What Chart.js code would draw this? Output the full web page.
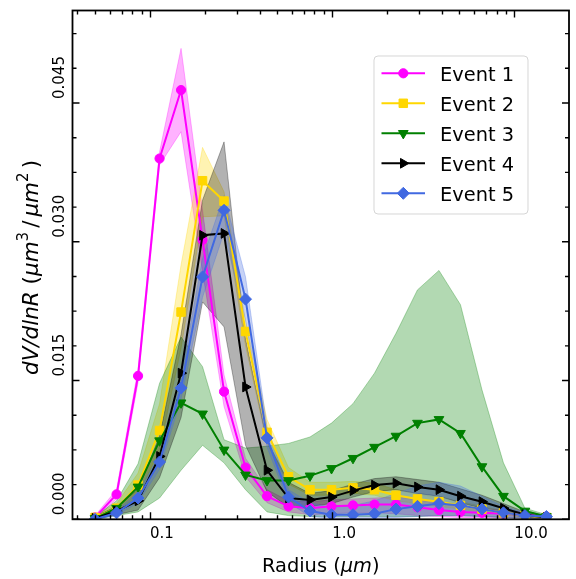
<!DOCTYPE html>
<html><head><meta charset="utf-8">
<script src="https://cdn.jsdelivr.net/npm/chart.js@4.4.0/dist/chart.umd.min.js"></script>
<style>html,body{margin:0;padding:0;background:#fff;}canvas{display:block;}</style>
</head><body>
<canvas id="c" width="576" height="579"></canvas>
<script>
// ---------------- data ----------------
const radius = [0.05, 0.065604, 0.086077, 0.112939, 0.148184, 0.194429, 0.255105, 0.334716, 0.439173, 0.576227, 0.756052, 0.991996, 1.301571, 1.707757, 2.240702, 2.939966, 3.857452, 5.06126, 6.640745, 8.713145, 11.432287, 15.0];
const eventLabels = ['Event 1', 'Event 2', 'Event 3', 'Event 4', 'Event 5'];

const event1   = [0.0002, 0.0027, 0.0155, 0.0390, 0.0464, 0.0302, 0.0138, 0.0056, 0.0025, 0.0014, 0.0012, 0.0014, 0.0015, 0.0016, 0.0016, 0.0013, 0.0010, 0.0008, 0.0007, 0.0006, 0.0005, 0.0003];
const event1Lo = [0.0000, 0.0022, 0.0148, 0.0383, 0.0419, 0.0268, 0.0122, 0.0046, 0.0018, 0.0008, 0.0005, 0.0006, 0.0007, 0.0007, 0.0006, 0.0004, 0.0003, 0.0002, 0.0002, 0.0002, 0.0001, 0.0001];
const event1Hi = [0.0004, 0.0032, 0.0162, 0.0397, 0.0509, 0.0334, 0.0156, 0.0066, 0.0032, 0.0020, 0.0019, 0.0021, 0.0022, 0.0023, 0.0024, 0.0021, 0.0017, 0.0014, 0.0012, 0.0010, 0.0008, 0.0005];

const event2   = [0.0002, 0.0012, 0.0037, 0.0096, 0.0224, 0.0366, 0.0344, 0.0203, 0.0094, 0.0046, 0.0032, 0.0032, 0.0034, 0.0032, 0.0026, 0.0022, 0.0019, 0.0015, 0.0011, 0.0007, 0.0004, 0.0002];
const event2Lo = [0.0000, 0.0008, 0.0025, 0.0075, 0.0185, 0.0327, 0.0328, 0.0188, 0.0082, 0.0038, 0.0026, 0.0026, 0.0028, 0.0026, 0.0020, 0.0017, 0.0014, 0.0011, 0.0008, 0.0005, 0.0002, 0.0001];
const event2Hi = [0.0004, 0.0017, 0.0050, 0.0125, 0.0275, 0.0402, 0.0354, 0.0215, 0.0108, 0.0056, 0.0040, 0.0040, 0.0041, 0.0039, 0.0032, 0.0027, 0.0024, 0.0019, 0.0014, 0.0009, 0.0006, 0.0003];

const event3   = [0.0001, 0.0012, 0.0035, 0.0085, 0.0126, 0.0114, 0.0075, 0.0048, 0.0042, 0.0042, 0.0047, 0.0055, 0.0066, 0.0078, 0.0090, 0.0104, 0.0108, 0.0093, 0.0057, 0.0025, 0.0009, 0.0003];
const event3Lo = [0.0000, 0.0004, 0.0008, 0.0023, 0.0053, 0.0080, 0.0061, 0.0032, 0.0008, 0.0004, 0.0003, 0.0003, 0.0003, 0.0003, 0.0003, 0.0003, 0.0004, 0.0004, 0.0003, 0.0002, 0.0001, 0.0001];
const event3Hi = [0.0003, 0.0020, 0.0060, 0.0147, 0.0197, 0.0165, 0.0086, 0.0077, 0.0079, 0.0082, 0.0089, 0.0104, 0.0125, 0.0158, 0.0201, 0.0248, 0.0269, 0.0232, 0.0140, 0.0061, 0.0012, 0.0005];

const event4   = [0.0001, 0.0009, 0.0020, 0.0068, 0.0158, 0.0307, 0.0309, 0.0143, 0.0053, 0.0023, 0.0021, 0.0024, 0.0031, 0.0037, 0.0039, 0.0035, 0.0032, 0.0025, 0.0019, 0.0012, 0.0005, 0.0002];
const event4Lo = [0.0000, 0.0005, 0.0010, 0.0045, 0.0110, 0.0235, 0.0208, 0.0080, 0.0030, 0.0013, 0.0014, 0.0017, 0.0024, 0.0030, 0.0032, 0.0028, 0.0025, 0.0018, 0.0012, 0.0007, 0.0002, 0.0001];
const event4Hi = [0.0003, 0.0014, 0.0032, 0.0090, 0.0200, 0.0345, 0.0408, 0.0195, 0.0085, 0.0040, 0.0028, 0.0031, 0.0038, 0.0044, 0.0046, 0.0043, 0.0040, 0.0033, 0.0026, 0.0017, 0.0008, 0.0003];

const event5   = [0.0000, 0.0007, 0.0023, 0.0062, 0.0142, 0.0262, 0.0334, 0.0238, 0.0088, 0.0024, 0.0009, 0.0005, 0.0005, 0.0006, 0.0011, 0.0014, 0.0017, 0.0015, 0.0011, 0.0007, 0.0004, 0.0003];
const event5Lo = [0.0000, 0.0004, 0.0018, 0.0054, 0.0130, 0.0240, 0.0310, 0.0215, 0.0078, 0.0018, 0.0003, 0.0001, 0.0001, 0.0001, 0.0002, 0.0003, 0.0004, 0.0004, 0.0003, 0.0002, 0.0001, 0.0001];
const event5Hi = [0.0002, 0.0010, 0.0028, 0.0070, 0.0155, 0.0282, 0.0350, 0.0262, 0.0100, 0.0032, 0.0018, 0.0013, 0.0015, 0.0020, 0.0028, 0.0036, 0.0040, 0.0036, 0.0025, 0.0014, 0.0007, 0.0004];

const xTickValues = [0.1, 1, 10];
const xTickLabels = ['0.1', '1.0', '10.0'];
const yTickValues = [0, 0.015, 0.03, 0.045];
const yTickLabels = ['0.000', '0.015', '0.030', '0.045'];
const xTitle = [['Radius (', false], ['μm', true], [')', false]];
const yTitle = [['dV/dlnR', true], [' (', false], ['μm', true], ['3', false, 'sup'], ['/', false], ['μm', true], ['2', false, 'sup'], [')', false]];

// ---------------- styles ----------------
const styles = [
  {rgb: '255,0,255',   point: 'circle',   r: 4.6, rot: 0},
  {rgb: '255,215,0',   point: 'rect',     r: 6.0, rot: 0},
  {rgb: '0,128,0',     point: 'triangle', r: 5.6, rot: 180},
  {rgb: '0,0,0',       point: 'triangle', r: 5.6, rot: 90},
  {rgb: '65,105,225',  point: 'rectRot',  r: 6.0, rot: 0}
];
const mids = [event1, event2, event3, event4, event5];
const los  = [event1Lo, event2Lo, event3Lo, event4Lo, event5Lo];
const his  = [event1Hi, event2Hi, event3Hi, event4Hi, event5Hi];

const pts = arr => radius.map((x, i) => ({x: x, y: arr[i]}));
const datasets = [];
mids.forEach((m, k) => {
  const s = styles[k], c = 'rgb(' + s.rgb + ')';
  datasets.push({
    label: eventLabels[k], data: pts(m), borderColor: c, backgroundColor: c,
    borderWidth: 2, pointStyle: s.point, pointRadius: s.r, pointRotation: s.rot,
    pointBorderWidth: 1, pointBorderColor: c, pointBackgroundColor: c,
    pointHoverRadius: s.r, fill: false, tension: 0, order: 5 - k
  });
});
mids.forEach((m, k) => {
  const s = styles[k], fc = 'rgba(' + s.rgb + ',0.3)';
  datasets.push({label: eventLabels[k] + ' hi', data: pts(his[k]), borderColor: fc, backgroundColor: fc,
    borderWidth: 1, pointRadius: 0, fill: '+1', tension: 0, order: 15 - k, isBand: true});
  datasets.push({label: eventLabels[k] + ' lo', data: pts(los[k]), borderColor: fc, backgroundColor: fc,
    borderWidth: 1, pointRadius: 0, fill: false, tension: 0, order: 15 - k, isBand: true});
});

const FONT = 'DejaVu Sans';
Chart.defaults.font.family = FONT;
Chart.defaults.color = '#000';

function drawRich(ctx, parts, x, y, size, align, gap) {
  gap = gap || 0;
  const seg = parts.map(p => {
    const sup = p[2] === 'sup';
    const fs = sup ? size * 0.7 : size;
    const font = (p[1] ? 'italic ' : '') + fs + 'px "' + FONT + '"';
    ctx.font = font;
    return {t: p[0], font: font, w: ctx.measureText(p[0]).width + (sup || p[0] === '/' ? gap : 0), rise: sup ? size * 0.42 : 0};
  });
  const total = seg.reduce((a, s) => a + s.w, 0);
  let cx = align === 'center' ? x - total / 2 : x;
  ctx.textAlign = 'left';
  ctx.textBaseline = 'alphabetic';
  seg.forEach(s => { ctx.font = s.font; ctx.fillText(s.t, cx, y - s.rise); cx += s.w; });
}

const decor = {
  id: 'decor',
  afterDatasetsDraw(chart) {
    const ctx = chart.ctx, a = chart.chartArea, xs = chart.scales.x, ys = chart.scales.y;
    ctx.save();
    ctx.strokeStyle = '#000';
    const xMinor = [];
    [0.01, 0.1, 1, 10].forEach(d => { for (let m = 2; m <= 9; m++) { const v = m * d; if (v > xs.min && v < xs.max) xMinor.push(v); } });
    const yMinor = [];
    for (let k = 0; k * 0.00375 <= ys.max; k++) { if (k % 4) yMinor.push(k * 0.00375); }
    ctx.lineWidth = 1.4;
    const tickX = (v, len) => { const p = Math.round(xs.getPixelForValue(v)) + 0.5; ctx.beginPath(); ctx.moveTo(p, a.bottom); ctx.lineTo(p, a.bottom - len); ctx.moveTo(p, a.top); ctx.lineTo(p, a.top + len); ctx.stroke(); };
    const tickY = (v, len) => { const p = ys.getPixelForValue(v); ctx.beginPath(); ctx.moveTo(a.left, p); ctx.lineTo(a.left + len, p); ctx.moveTo(a.right, p); ctx.lineTo(a.right - len, p); ctx.stroke(); };
    xMinor.forEach(v => tickX(v, 4)); xTickValues.forEach(v => tickX(v, 7));
    yMinor.forEach(v => tickY(v, 4)); yTickValues.forEach(v => tickY(v, 7));
    ctx.lineWidth = 1.8;
    ctx.strokeRect(a.left, a.top, a.right - a.left, a.bottom - a.top);
    ctx.restore();
  },
  afterDraw(chart) {
    const ctx = chart.ctx, a = chart.chartArea, ys = chart.scales.y;
    ctx.save();
    ctx.fillStyle = '#000';
    ctx.font = '15px "' + FONT + '"';
    yTickValues.forEach((v, i) => {
      const p = ys.getPixelForValue(v) - 4;
      ctx.save(); ctx.translate(64, p); ctx.rotate(-Math.PI / 2);
      ctx.textAlign = 'left'; ctx.textBaseline = 'alphabetic';
      ctx.fillText(yTickLabels[i], 0, 0); ctx.restore();
    });
    drawRich(ctx, xTitle, (a.left + a.right) / 2, 571.5, 19.4, 'center', 0);
    ctx.save(); ctx.translate(37.5, 267.5); ctx.rotate(-Math.PI / 2);
    drawRich(ctx, yTitle, 0, 0, 21.5, 'center', 4); ctx.restore();
    const bx = 374, by = 56, bw = 154, bh = 158, rr = 4;
    ctx.beginPath();
    ctx.moveTo(bx + rr, by); ctx.arcTo(bx + bw, by, bx + bw, by + bh, rr); ctx.arcTo(bx + bw, by + bh, bx, by + bh, rr);
    ctx.arcTo(bx, by + bh, bx, by, rr); ctx.arcTo(bx, by, bx + bw, by, rr); ctx.closePath();
    ctx.fillStyle = 'rgba(255,255,255,0.8)'; ctx.fill();
    ctx.strokeStyle = 'rgba(204,204,204,0.8)'; ctx.lineWidth = 1; ctx.stroke();
    chart.data.datasets.forEach((ds, k) => {
      if (ds.isBand) return;
      const y = 73.3 + 30 * k;
      ctx.strokeStyle = ds.borderColor; ctx.lineWidth = 2;
      ctx.beginPath(); ctx.moveTo(381.5, y); ctx.lineTo(425, y); ctx.stroke();
      ctx.fillStyle = ds.pointBackgroundColor; ctx.strokeStyle = ds.pointBorderColor; ctx.lineWidth = 1;
      Chart.helpers.drawPoint(ctx, {pointStyle: ds.pointStyle, radius: ds.pointRadius, rotation: ds.pointRotation, borderWidth: 1}, 403.3, y);
      ctx.fillStyle = '#000'; ctx.font = '19.4px "' + FONT + '"'; ctx.textAlign = 'left'; ctx.textBaseline = 'alphabetic';
      ctx.fillText(ds.label, 440, y + 7.3);
    });
    ctx.restore();
  }
};

new Chart(document.getElementById('c'), {
  type: 'line',
  data: {datasets: datasets},
  options: {
    responsive: false, animation: false, devicePixelRatio: 1,
    layout: {padding: {left: 0, right: 1.7, top: 10.5, bottom: 0}},
    plugins: {legend: {display: false}, tooltip: {enabled: false}},
    scales: {
      x: {
        type: 'logarithmic', min: 0.03759, max: 19.95,
        grid: {display: false, drawTicks: false}, border: {display: false},
        afterBuildTicks: s => { s.ticks = xTickValues.map(v => ({value: v})); },
        afterFit: s => { s.height = 579 - 519.3; },
        ticks: {
          align: 'start', padding: 6, maxRotation: 0, minRotation: 0, autoSkip: false,
          font: {size: 15, family: FONT}, color: '#000',
          callback: (v, i) => xTickLabels[i]
        }
      },
      y: {
        type: 'linear', min: 0, max: 0.055,
        grid: {display: false, drawTicks: false}, border: {display: false},
        afterBuildTicks: s => { s.ticks = yTickValues.map(v => ({value: v})); },
        afterFit: s => { s.width = 72.5; },
        ticks: {display: false}
      }
    }
  },
  plugins: [decor]
});
</script>
</body></html>
